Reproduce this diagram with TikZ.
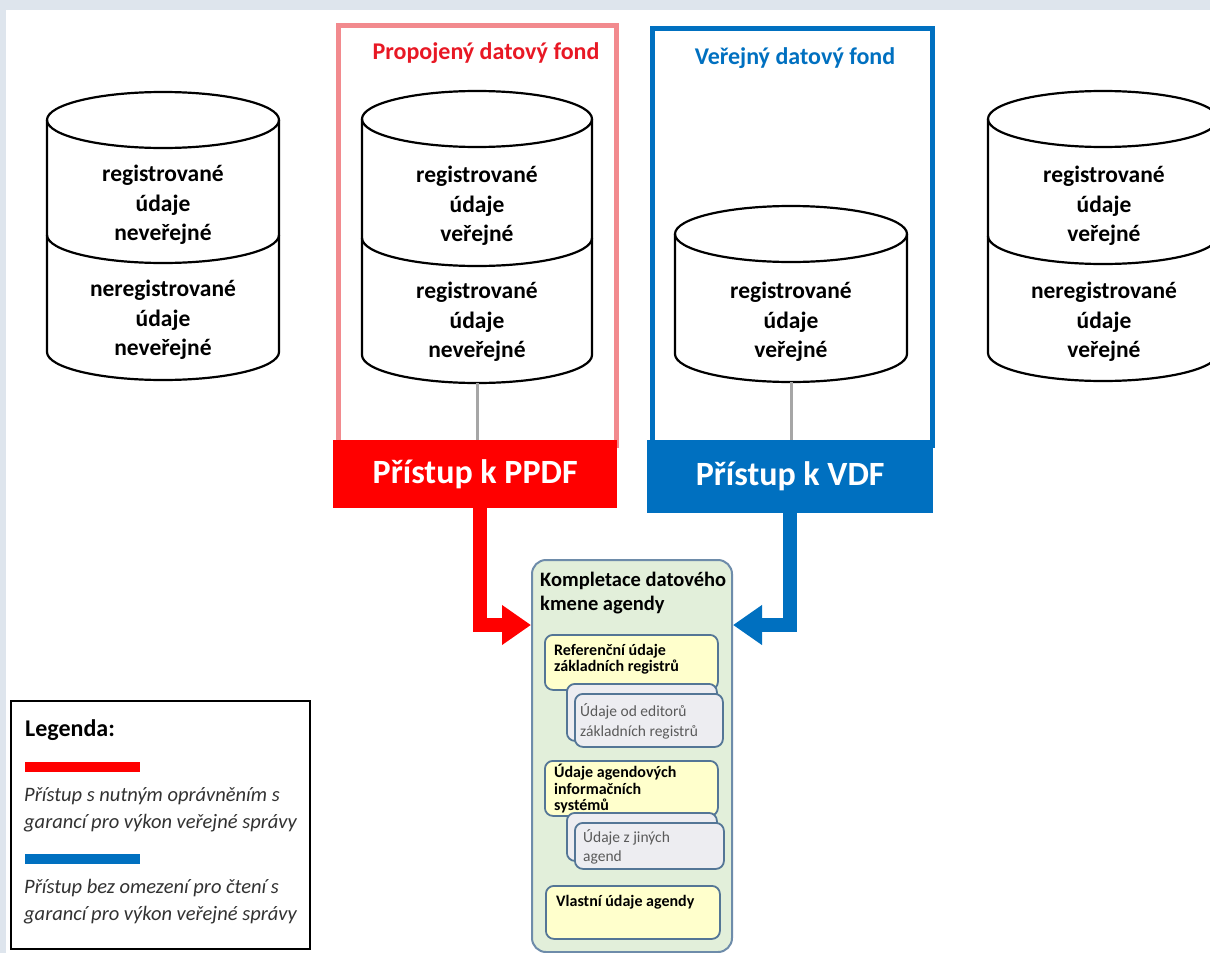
\documentclass[tikz,border=0pt]{standalone}
\usepackage{fontspec}
\setmainfont{Carlito}
\usetikzlibrary{arrows.meta}
\definecolor{bgc}{RGB}{222,229,237}
\definecolor{frRed}{RGB}{242,138,142}
\definecolor{accRed}{RGB}{255,0,0}
\definecolor{titRed}{RGB}{232,24,36}
\definecolor{accBlue}{RGB}{0,112,192}
\definecolor{kmenFill}{RGB}{226,239,218}
\definecolor{kmenLine}{RGB}{110,140,170}
\definecolor{boxLine}{RGB}{84,118,150}
\definecolor{yelFill}{RGB}{255,255,204}
\definecolor{grayFill}{RGB}{237,237,241}
\definecolor{grayTxt}{RGB}{90,90,90}
\definecolor{legTxt}{RGB}{50,50,50}
\definecolor{connGray}{RGB}{166,166,166}
\newcommand\mycyl[5]{%
  \fill[white] ({#1-#5},#2) -- ({#1-#5},#4) arc[start angle=180,end angle=360,x radius=#5pt,y radius=28pt] -- ({#1+#5},#2) -- cycle;
  \draw[cylline] ({#1-#5},#2) -- ({#1-#5},#4) arc[start angle=180,end angle=360,x radius=#5pt,y radius=28pt] -- ({#1+#5},#2);
  \draw[cylline] (#1,#2) ellipse[x radius=#5pt,y radius=28pt];
}
\newcommand\mycyldiv[3]{%
  \draw[cylline] ({#1-#3},#2) arc[start angle=180,end angle=360,x radius=#3pt,y radius=28pt];
}
\begin{document}
\begin{tikzpicture}[x=1pt,y=-1pt,
  cylline/.style={draw=black,line width=2.2pt},
  cyltxt/.style={font=\bfseries\fontsize{23.5}{29.5}\selectfont,align=center,inner sep=0pt},
  fundtitle/.style={font=\bfseries\fontsize{24}{28}\selectfont,inner sep=0pt},
  accbox/.style={anchor=north west,inner sep=0pt,text=white,font=\bfseries\fontsize{34}{38}\selectfont},
  frame/.style={anchor=north west,inner sep=0pt,line width=5pt},
  flow/.style={line width=14pt,line join=miter,-{Triangle[length=29pt,width=38pt]}},
  conn/.style={draw=connGray,line width=3pt},
  inbox/.style={draw=boxLine,line width=1.8pt,rounded corners=8pt,anchor=north west,inner sep=0pt},
  boldsmall/.style={anchor=north west,align=left,inner sep=0pt,font=\bfseries\fontsize{16}{16.5}\selectfont},
  graysmall/.style={anchor=north west,align=left,inner sep=0pt,text=grayTxt,font=\fontsize{15.5}{20}\selectfont},
  legtext/.style={anchor=north west,align=left,inner sep=0pt,text=legTxt,font=\itshape\fontsize{20.5}{27}\selectfont},
  legbar/.style={anchor=north west,inner sep=0pt,minimum width=115pt,minimum height=10pt}
]
\useasboundingbox (0,0) rectangle (1210,953);
\fill[bgc] (0,0) rectangle (1210,953);
\fill[white] (6,10) rectangle (1210,953);

% frames
\node[frame,draw=frRed,minimum width=278pt,minimum height=420pt] (ppdfframe) at (336,23) {};
\node[frame,draw=accBlue,minimum width=280pt,minimum height=417pt] (vdfframe) at (650,26) {};

\node[fundtitle,text=titRed] (ppdftitle) at (486,53) {Propojený datový fond};
\node[fundtitle,text=accBlue] (vdftitle) at (795,58) {Veřejný datový fond};

% cylinders
\mycyl{163}{120}{}{352}{116}
\mycyldiv{163}{235}{116}
\mycyl{477}{119}{}{355}{115}
\mycyldiv{477}{238}{115}
\mycyl{791}{234}{}{354}{116}
\mycyl{1103}{119}{}{353}{115}
\mycyldiv{1103}{236}{115}

\node[cyltxt] (c1a) at (163,205) {registrované\\údaje\\neveřejné};
\node[cyltxt] (c1b) at (163,320) {neregistrované\\údaje\\neveřejné};
\node[cyltxt] (c2a) at (477,206) {registrované\\údaje\\veřejné};
\node[cyltxt] (c2b) at (477,322) {registrované\\údaje\\neveřejné};
\node[cyltxt] (c3a) at (791,322) {registrované\\údaje\\veřejné};
\node[cyltxt] (c4a) at (1104,206) {registrované\\údaje\\veřejné};
\node[cyltxt] (c4b) at (1104,322) {neregistrované\\údaje\\veřejné};

\coordinate (ppdfcylbot) at (477,383);
\coordinate (vdfcylbot) at (791,382);

% access boxes
\node[accbox,fill=accRed,minimum width=284pt,minimum height=68pt] (ppdf) at (333,440) {Přístup k PPDF};
\node[accbox,fill=accBlue,minimum width=286pt,minimum height=73pt] (vdf) at (647,440) {Přístup k VDF};

\draw[conn] (ppdfcylbot) -- (ppdfcylbot |- ppdf.north);
\draw[conn] (vdfcylbot) -- (vdfcylbot |- vdf.north);

% kmen
\node[anchor=north west,inner sep=0pt,draw=kmenLine,fill=kmenFill,line width=2pt,rounded corners=14pt,minimum width=200pt,minimum height=392pt] (kmen) at (531,559) {};
\node[anchor=north west,align=left,inner sep=0pt,font=\bfseries\fontsize{20.5}{24}\selectfont] (kmentitle) at (540,572) {Kompletace datového\\kmene agendy};

\draw[flow,accRed] ([xshift=5pt]ppdf.south) |- (kmen.west |- 0,625);
\draw[flow,accBlue] (vdf.south) |- (kmen.east |- 0,625);

\node[inbox,fill=yelFill,minimum width=173pt,minimum height=55pt] (b1) at (544,634) {};
\node[boldsmall] (b1t) at (554,644) {Referenční údaje\\základních registrů};
\node[inbox,fill=grayFill,minimum width=150pt,minimum height=57pt] (g1back) at (566,683) {};
\node[inbox,fill=grayFill,minimum width=148pt,minimum height=53pt] (g1) at (574,693) {};
\node[graysmall] (g1t) at (580,703) {Údaje od editorů\\základních registrů};

\node[inbox,fill=yelFill,minimum width=173pt,minimum height=55pt] (b3) at (544,760) {};
\node[boldsmall] (b3t) at (554,764) {Údaje agendových\\informačních\\systémů};
\node[inbox,fill=grayFill,minimum width=150pt,minimum height=48pt] (g2back) at (566,812) {};
\node[inbox,fill=grayFill,minimum width=149pt,minimum height=46pt] (g2) at (574,822) {};
\node[graysmall,font=\fontsize{15.5}{19}\selectfont] (g2t) at (583,829) {Údaje z jiných\\agend};

\node[inbox,fill=yelFill,minimum width=174pt,minimum height=53pt] (b5) at (545,885) {};
\node[boldsmall] (b5t) at (556,895) {Vlastní údaje agendy};

% legend
\node[anchor=north west,inner sep=0pt,draw=black,line width=1.5pt,minimum width=299pt,minimum height=248pt] (legend) at (10,700) {};
\node[anchor=west,inner sep=0pt,font=\bfseries\fontsize{24}{28}\selectfont] (legtitle) at (25,730) {Legenda:};
\node[legbar,fill=accRed] (legred) at (25,762) {};
\node[legtext] (legredt) at (24,787) {Přístup s nutným oprávněním s\\garancí pro výkon veřejné správy};
\node[legbar,fill=accBlue] (legblue) at (25,854) {};
\node[legtext] (legbluet) at (24,879) {Přístup bez omezení pro čtení s\\garancí pro výkon veřejné správy};
\end{tikzpicture}
\end{document}
